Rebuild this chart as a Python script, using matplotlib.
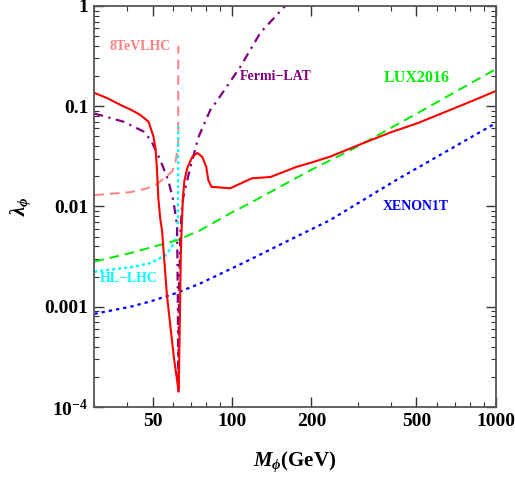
import matplotlib
matplotlib.use("Agg")
import matplotlib.pyplot as plt
from matplotlib.ticker import FixedLocator, FixedFormatter, LogLocator, NullFormatter

plt.rcParams['font.family'] = ['Liberation Serif', 'DejaVu Serif']
plt.rcParams['font.weight'] = 'bold'
plt.rcParams['mathtext.fontset'] = 'custom'
plt.rcParams['mathtext.rm'] = 'Liberation Serif:bold'
plt.rcParams['mathtext.it'] = 'Liberation Serif:bold:italic'
plt.rcParams['mathtext.bf'] = 'Liberation Serif:bold'

# relic density curve (red, solid)
relic_x = [30.1, 34, 37.8, 41.5, 44.9, 48.3, 50.4, 51.3, 51.9, 52.6, 53.5, 54.3, 56.7, 60.2,
           62.8, 63.3, 64.0, 64.4, 65.2, 66.0, 67.7, 70.7, 73.9, 77.2, 79.9, 81.3, 83.5,
           98.5, 119, 140, 176, 198, 236, 314, 400, 502, 670, 820, 1000]
relic_y = [0.136, 0.119, 0.103, 0.092, 0.082, 0.070, 0.050, 0.038, 0.025, 0.012, 0.0075, 0.0058,
           0.0013, 0.000315, 0.000142, 0.0005, 0.0035, 0.0058, 0.0125, 0.018, 0.0242, 0.0312,
           0.0342, 0.0312, 0.0248, 0.0184, 0.0157, 0.0152, 0.0191, 0.0197, 0.0249, 0.0272,
           0.0315, 0.0428, 0.055, 0.0674, 0.0917, 0.114, 0.142]

# Fermi-LAT (purple, dash-dot)
fermi_x = [30.1, 38.9, 46.2, 49.5, 53.5, 57.3, 59.9, 61.9, 62.3, 62.6, 63.0, 63.8,
           64.8, 65.4, 67.7, 70.7, 74.6, 82.8, 88.1, 107.5, 128, 159, 170]
fermi_y = [0.0846, 0.07, 0.056, 0.045, 0.029, 0.0184, 0.0116, 0.0065, 0.0015, 0.00014,
           0.0015, 0.0058, 0.0105, 0.0125, 0.0184, 0.029, 0.049, 0.092, 0.115, 0.247, 0.54, 1.0, 1.2]

# 8 TeV LHC (pink, dashed)
lhc8_x = [30.1, 41.2, 47, 51.3, 53.5, 57, 59.2, 61.0, 62.1, 62.55, 62.6]
lhc8_y = [0.013, 0.0139, 0.015, 0.0164, 0.0178, 0.0205, 0.0222, 0.027, 0.0366, 0.045, 0.40]

# HL-LHC (cyan, dotted)
hllhc_x = [30.1, 42.3, 49.1, 55.9, 59.0, 61.9, 62.4, 62.6]
hllhc_y = [0.00224, 0.0025, 0.00273, 0.00325, 0.0039, 0.0052, 0.0075, 0.063]

# LUX2016 (green, dashed)
lux_x = [30.1, 41.2, 49.1, 61.9, 75.9, 98.5, 117, 200, 289, 530, 1000]
lux_y = [0.00282, 0.00343, 0.0039, 0.0046, 0.0058, 0.00856, 0.0108, 0.0233, 0.0378, 0.0917, 0.235]

# XENON1T (blue, dotted)
xenon_x = [30.1, 41.2, 49.1, 62, 75.9, 98.5, 117, 156, 235.6, 421, 600, 1000]
xenon_y = [0.00085, 0.001, 0.00113, 0.00138, 0.00171, 0.00237, 0.00295, 0.0043, 0.00733,
           0.0185, 0.0315, 0.068]

xticks = [50, 100, 200, 500, 1000]
xtick_labels = ['50', '100', '200', '500', '1000']
yticks = [1e-4, 1e-3, 1e-2, 1e-1, 1]
ytick_labels = [r'$\mathbf{10^{-4}}$', '0.001', '0.01', '0.1', '1']

fig = plt.figure(figsize=(5.15, 4.82), dpi=100)
ax = fig.add_axes([0.1825, 0.1556, 0.7805, 0.832])

ax.plot(lhc8_x, lhc8_y, color='#ff8080', lw=1.4, dashes=(5, 3))
ax.plot(hllhc_x, hllhc_y, color='#00ffff', lw=1.8, dashes=(1.2, 1.2))
ax.plot(lux_x, lux_y, color='#00ee00', lw=1.4, dashes=(5, 3))
ax.plot(xenon_x, xenon_y, color='#0000ff', lw=1.6, dashes=(1.5, 1.8))
ax.plot(fermi_x, fermi_y, color='#800080', lw=1.6, dashes=(4, 2.5, 1, 2.5))
ax.plot(relic_x, relic_y, color='#ff0000', lw=1.5)

ax.set_xscale('log')
ax.set_yscale('log')
ax.set_xlim(30, 1000)
ax.set_ylim(1e-4, 1)

ax.xaxis.set_major_locator(FixedLocator(xticks))
ax.xaxis.set_major_formatter(FixedFormatter(xtick_labels))
ax.xaxis.set_minor_locator(LogLocator(base=10, subs=range(2, 10)))
ax.xaxis.set_minor_formatter(NullFormatter())
ax.yaxis.set_major_locator(FixedLocator(yticks))
ax.yaxis.set_major_formatter(FixedFormatter(ytick_labels))
ax.yaxis.set_minor_locator(LogLocator(base=10, subs=range(2, 10)))
ax.yaxis.set_minor_formatter(NullFormatter())

ax.tick_params(which='both', direction='in', top=True, right=True, color='#333333')
ax.tick_params(which='major', length=7, width=1, labelsize=14, pad=4)
ax.tick_params(which='minor', length=3.5, width=0.8)
for lbl in ax.get_xticklabels() + ax.get_yticklabels():
    lbl.set_fontweight('bold')
for sp in ax.spines.values():
    sp.set_color('#555555')
    sp.set_linewidth(1.3)

ax.set_xlabel(r'$M_\phi$(GeV)', fontsize=15, fontweight='bold', labelpad=14)
ax.set_ylabel(r'$\lambda_\phi$', fontsize=15, fontweight='bold', labelpad=8)

lab = dict(fontsize=10, fontweight='bold', ha='center', va='center', transform=ax.transAxes)
ax.text(0.115, 0.9, '8TeVLHC', color='#ff8080', **lab)
ax.text(0.453, 0.823, 'Fermi\u2212LAT', color='#800080', **lab)
ax.text(0.803, 0.82, 'LUX2016', color='#00ee00', fontsize=11.5,
        fontweight='bold', ha='center', va='center', transform=ax.transAxes)
ax.text(0.8, 0.499, 'XENON1T', color='#0000ff', **lab)
ax.text(0.087, 0.32, 'HL\u2212LHC', color='#00ffff', **lab)

fig.savefig('out.png', dpi=100)
